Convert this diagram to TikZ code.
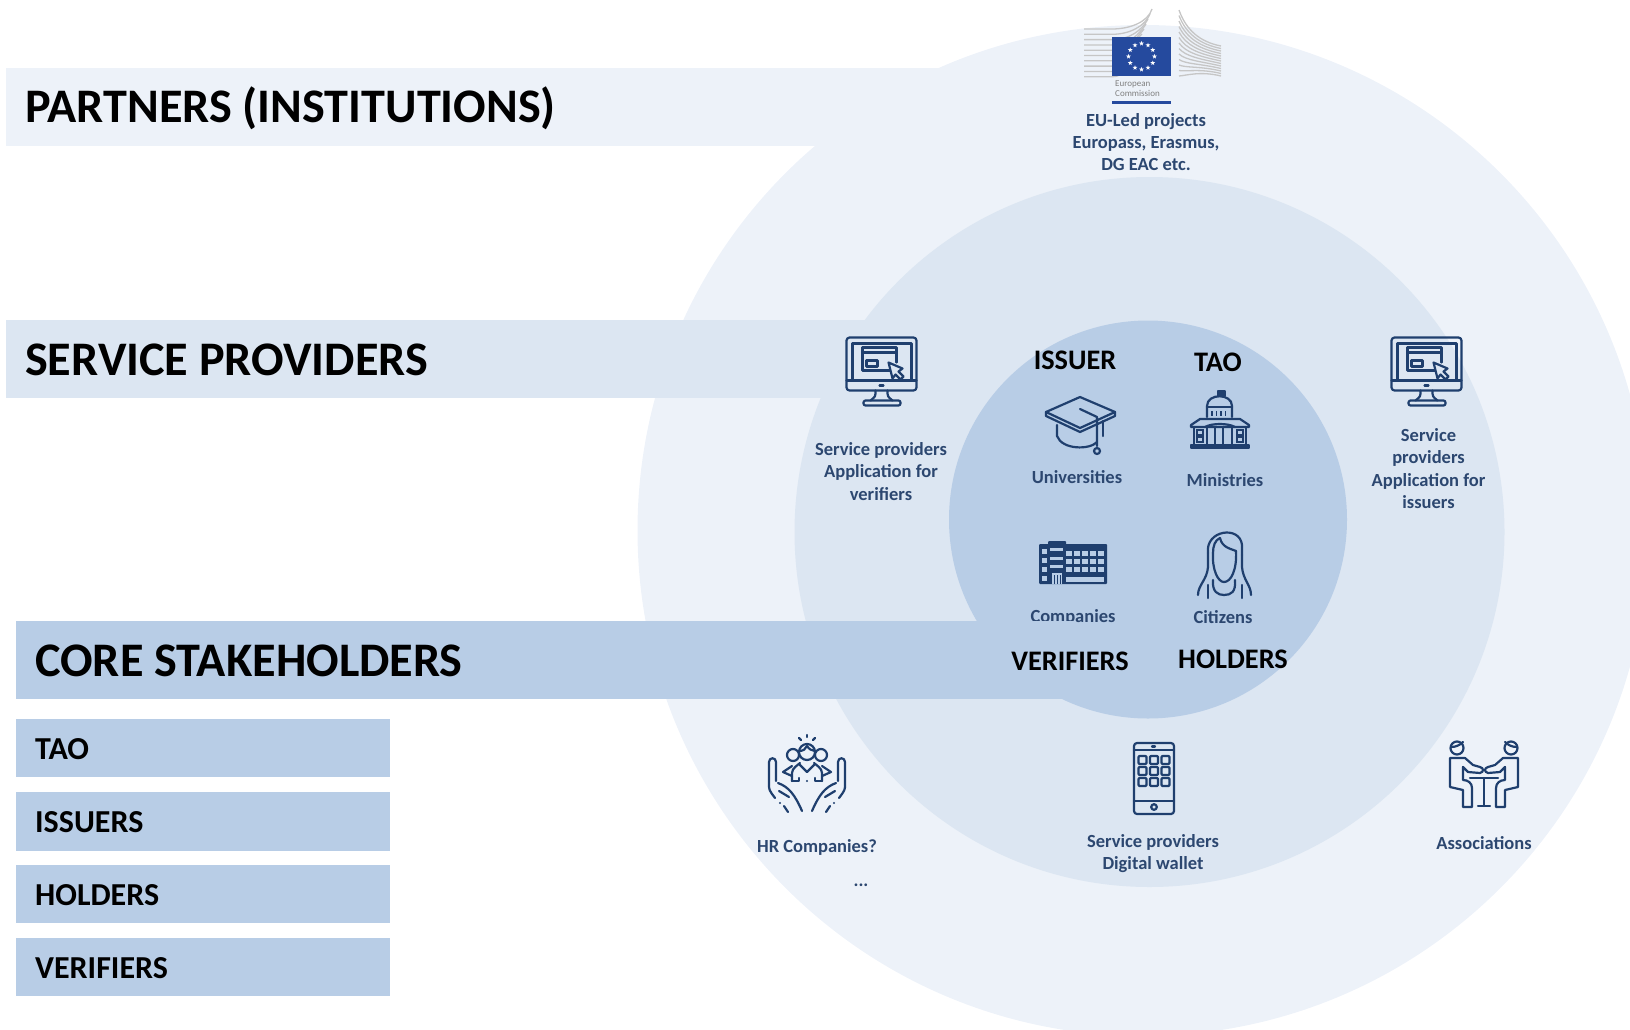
\documentclass[tikz,border=0pt]{standalone}
\usepackage{fontspec}
\setmainfont{Carlito}
\usetikzlibrary{shapes.geometric}
\definecolor{ringouter}{HTML}{EDF2F9}
\definecolor{ringmiddle}{HTML}{DCE6F2}
\definecolor{ringinner}{HTML}{B8CDE6}
\definecolor{icon}{HTML}{1F3F6E}
\definecolor{labelblue}{HTML}{2C4770}
\definecolor{ecblue}{HTML}{254A9E}
\definecolor{ecgrey}{HTML}{C6C6C6}
\tikzset{
  bartitle/.style={anchor=base west,inner sep=0,font=\fontsize{48.2}{54}\selectfont\bfseries},
  subtitle/.style={anchor=base west,inner sep=0,font=\fontsize{32}{36}\selectfont\bfseries},
  role/.style={inner sep=0,font=\fontsize{28.3}{32}\selectfont\bfseries},
  label/.style={inner sep=0,align=center,text=labelblue,font=\fontsize{18.5}{22.3}\selectfont\bfseries},
  iconline/.style={draw=icon,line width=2.2pt,line join=round,line cap=round},
  ecline/.style={draw=ecgrey,line width=1.3pt},
  monitor/.pic={
    \draw[iconline,rounded corners=3pt] (0,0) rectangle (70,53);
    \draw[iconline] (6,43)--(6,6)--(65,6)--(65,43);
    \draw[iconline] (0,43)--(70,43);
    \draw[iconline] (33,48)--(37,48);
    \draw[iconline] (29,53) .. controls (29,59) .. (24,63);
    \draw[iconline] (41,53) .. controls (41,59) .. (46,63);
    \draw[iconline,rounded corners=2pt] (17,63) rectangle (54,68);
    \draw[iconline] (50,33)--(16,33)--(16,10)--(50,10)--(50,25);
    \draw[iconline] (16,15)--(50,15);
    \draw[iconline] (20,23) rectangle (31,29);
    \draw[iconline,fill=ringmiddle] (42,25)--(56,31)--(52,34)--(57,39)--(54,42)--(49,37)--(46,41)--cycle;
  }
}
\begin{document}
\begin{tikzpicture}[x=1pt,y=-1pt]
\useasboundingbox (0,0) rectangle (1630,1029);
\clip (0,0) rectangle (1630,1029);
% rings and the two upper bars
\fill[ringouter] (1143,530.5) circle[radius=505.5];
\fill[ringouter] (6,68) rectangle (1000,146);
\fill[ringmiddle] (1149.5,532) circle[radius=355];
\fill[ringmiddle] (6,320) rectangle (880,398);
\fill[ringinner] (1148,519.5) circle[radius=199];
\node[label] (companies) at (1073,617) {Companies};
% core bar lies over the label above
\fill[ringinner] (16,621) rectangle (1075,698.5);
\fill[ringinner] (16,719) rectangle (390,777);
\fill[ringinner] (16,792) rectangle (390,851);
\fill[ringinner] (16,865) rectangle (390,923);
\fill[ringinner] (16,938) rectangle (390,996);
\node[bartitle] (partners) at (25,122) {PARTNERS (INSTITUTIONS)};
\node[bartitle] (providers) at (25,375) {SERVICE PROVIDERS};
\node[bartitle] (core) at (35,676) {CORE STAKEHOLDERS};
\node[subtitle] (tao) at (35,759.5) {TAO};
\node[subtitle] (issuers) at (35,832.5) {ISSUERS};
\node[subtitle] (holders) at (35,905.5) {HOLDERS};
\node[subtitle] (verifiers) at (35,978.5) {VERIFIERS};
\node[role] (issuerrole) at (1075,360.5) {ISSUER};
\node[role] (taorole) at (1218,362.5) {TAO};
\node[role] (verifierrole) at (1070,661.5) {VERIFIERS};
\node[role] (holderrole) at (1233,659.5) {HOLDERS};
% logo
\foreach \i in {0,...,9}
  \draw[ecline] (1084,29+\i*5.3)--(1112,29+\i*5.3) .. controls (1130,29+\i*5.3) and (1148-\i*3,22+\i*4) .. (1152-\i*2,9+\i*5);
\foreach \i in {0,...,12}
  \draw[ecline] (1179,10+\i*5.5) .. controls (1186,30+\i*3.8) and (1200,42+\i*2.4) .. (1221,46+\i*2.5);
\node[fill=ecblue,minimum width=59pt,minimum height=39pt,inner sep=0] (ecflag) at (1141.5,56.5) {};
\foreach \a in {0,30,...,330}
  \node[star,star points=5,star point ratio=2.4,fill=white,inner sep=0,minimum size=5pt] (ecstar\a) at ([shift={(\a:13)}]ecflag.center) {};
\node[inner sep=0,anchor=base west,text=gray,font=\fontsize{9}{10}\selectfont,align=left] (ecname) at (1115,86) {European};
\node[inner sep=0,anchor=base west,text=gray,font=\fontsize{9}{10}\selectfont,align=left] (ecname2) at (1115,96) {Commission};
\fill[ecblue] (1112,100.5) rectangle (1171,103.5);
\node[label] (eu) at (1146,142) {EU-Led projects\\Europass, Erasmus,\\DG EAC etc.};
% monitors
\pic at (846.5,337.5) {monitor};
\pic at (1391.5,337.5) {monitor};
\node[label] (verifierapp) at (881,471.5) {Service providers\\Application for\\verifiers};
\node[label] (issuerapp) at (1428.5,468.5) {Service\\providers\\Application for\\issuers};
% cap
\draw[iconline] (1080,397)--(1115,412)--(1080,428)--(1046,412)--cycle;
\draw[iconline] (1046,412)--(1046,416)--(1080,432)--(1115,416)--(1115,412);
\draw[iconline] (1057,425)--(1057,436) .. controls (1062,450) and (1090,450) .. (1097,442);
\draw[iconline] (1080,409)--(1097,417)--(1097,446);
\draw[iconline] (1103,421)--(1103,436);
\draw[iconline] (1097,451) circle[radius=3];
\node[label] (universities) at (1077,477) {Universities};
% ministry
\draw[iconline,fill=icon] (1218,391) rectangle (1225,396);
\draw[iconline] (1207,417)--(1207,406) .. controls (1207,393) and (1232,393) .. (1232,406)--(1232,417);
\draw[iconline] (1207,407)--(1232,407);
\foreach \x in {1212,1216.5,...,1229}
  \draw[icon,line width=1.8pt] (\x,411)--(\x,416);
\draw[iconline] (1191,427)--(1191,425)--(1200,419)--(1240,419)--(1249,425)--(1249,427)--cycle;
\draw[iconline] (1205,427) .. controls (1212,423) and (1228,423) .. (1235,427);
\draw[iconline] (1194,427)--(1194,445) (1246,427)--(1246,445);
\foreach \x in {1207,1215,1223,1232}
  \draw[iconline] (\x,427)--(\x,445);
\foreach \x in {1197,1237}
  \foreach \y in {430,437}
    \draw[icon,line width=1.6pt] (\x,\y) rectangle (\x+6,\y+5);
\draw[iconline,fill=icon] (1191,445) rectangle (1249,448);
\node[label] (ministries) at (1225,480.5) {Ministries};
% company building
\fill[icon,rounded corners=1pt] (1039,544) rectangle (1107,584);
\fill[icon,rounded corners=1pt] (1048,541) rectangle (1066,546);
\foreach \x in {1066,1074,1082,1090,1098}
  \foreach \y in {551,559,567}
    \fill[ringinner] (\x,\y) rectangle (\x+5.5,\y+5);
\fill[ringinner] (1066,577) rectangle (1104,582);
\foreach \y in {549,558,567,576}
  \fill[ringinner] (1042,\y) rectangle (1047,\y+5);
\foreach \y in {548,557,565}
  \fill[ringinner] (1050,\y) rectangle (1063,\y+3);
\fill[ringinner] (1052,573) rectangle (1062,584);
\foreach \x in {1054,1057,1060}
  \draw[icon,line width=.8pt] (\x,575)--(\x,584);
% woman
\draw[iconline] (1208,553) .. controls (1205,530) and (1240,525) .. (1242,545)--(1242,555);
\draw[iconline] (1208,553)--(1208,567) .. controls (1207,580) and (1198,585) .. (1198,595);
\draw[iconline] (1242,555)--(1242,567) .. controls (1243,580) and (1251,585) .. (1251,595);
\draw[iconline] (1213,553) .. controls (1212,570) and (1218,582) .. (1224,582) .. controls (1231,582) and (1237,570) .. (1236,551);
\draw[iconline] (1220,538) .. controls (1222,548) and (1232,549) .. (1236,551);
\draw[iconline] (1220,538) .. controls (1215,540) and (1213,546) .. (1213,553);
\draw[iconline] (1213,580) .. controls (1212,592) and (1218,595) .. (1224,595) .. controls (1231,595) and (1236,592) .. (1235,580);
\draw[iconline] (1208,585)--(1208,598) (1242,585)--(1242,598);
\node[label] (citizens) at (1223,617) {Citizens};
% caring hands
\foreach \s in {1,-1}{
\begin{scope}[shift={(807,0)},xscale=\s]
\draw[iconline] (-32,798) .. controls (-38,790) .. (-38,784)--(-38,762) .. controls (-38,757) and (-31,757) .. (-31,762)--(-31,781);
\draw[iconline] (-29,783) .. controls (-18,787) and (-12,795) .. (-5,811);
\draw[iconline] (-28,791)--(-18,797);
\draw[iconline] (-23,806)--(-19,812);
\draw[iconline] (-27,803)--(-27,803);
\draw[iconline] (-8,738)--(-6,740);
\draw[iconline] (-14,755) circle[radius=6];
\draw[iconline] (-15,766)--(-24,772)--(-15,776);
\draw[iconline] (-15,781)--(-15,773) .. controls (-15,768) and (-9,765) .. (-7,763);
\draw[iconline] (-7,765)--(0,772);
\draw[iconline] (-15,781)--(-8,781)--(-8,778);
\end{scope}
}
\draw[iconline] (807,735)--(807,737);
\draw[iconline] (807,781)--(807,781);
\draw[iconline,fill=ringouter] (807,752) circle[radius=8];
\draw[iconline] (799,751) .. controls (803,751) and (806,749) .. (807,746) .. controls (809,749) and (812,751) .. (815,751);
\node[label] (hr) at (817,847) {HR Companies?};
\node[label] (more) at (861,885) {...};
% phone
\draw[iconline,rounded corners=3pt] (1134,743) rectangle (1174,814);
\draw[iconline] (1134,750)--(1174,750) (1134,801)--(1174,801);
\draw[iconline] (1152,746.5)--(1155,746.5);
\draw[iconline] (1154,807) circle[radius=2.8];
\foreach \x in {1138.5,1150,1161.5}
  \foreach \y in {756,767,778}
    \draw[iconline,rounded corners=1pt] (\x,\y) rectangle (\x+8,\y+8);
\node[label] (wallet) at (1153,853.5) {Service providers\\Digital wallet};
% associations
\foreach \s in {1,-1}{
\begin{scope}[shift={(1484,0)},xscale=\s]
\draw[iconline] (-27,748) circle[radius=6.5];
\draw[iconline] (-33,747) .. controls (-28,747) and (-24,745) .. (-21,742);
\draw[iconline] (-21,767)--(-16,772)--(-4,773) .. controls (0,772) and (0,768) .. (-4,767)--(-11,765)--(-19,758)--(-34,758)--(-34,787)--(-21,790)--(-21,807)--(-12,807)--(-12,788) .. controls (-12,783) and (-16,780) .. (-21,780)--(-21,767);
\end{scope}
}
\draw[iconline] (1470,778)--(1498,778) (1484,778)--(1484,806) (1478,806)--(1490,806);
\node[label] (assoc) at (1484,843) {Associations};
\end{tikzpicture}
\end{document}
